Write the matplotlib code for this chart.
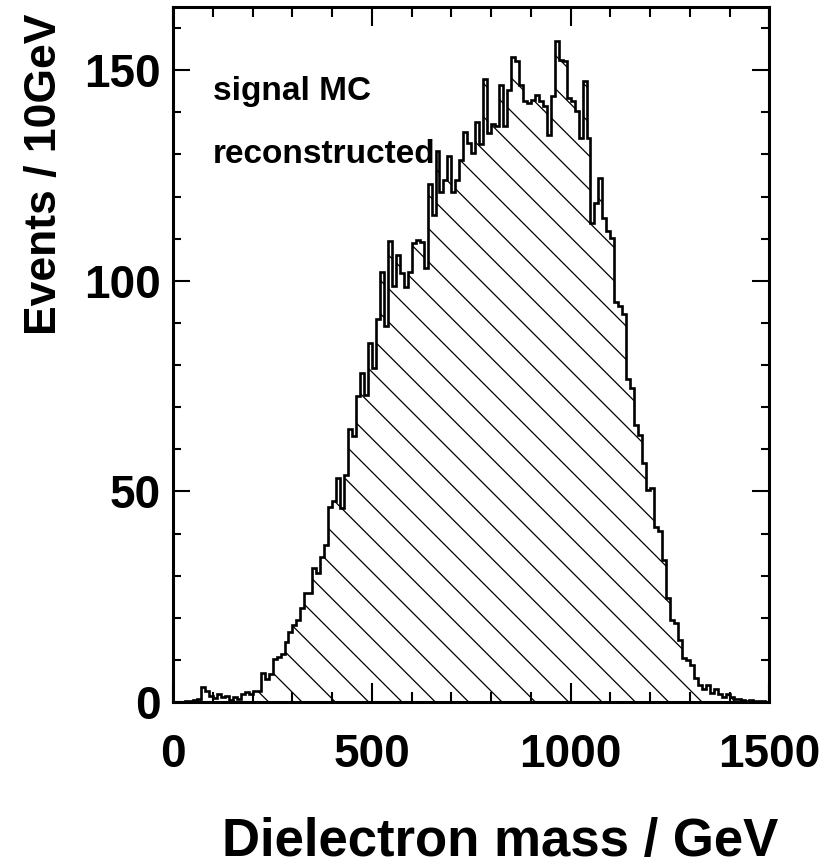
import numpy as np
import matplotlib.pyplot as plt

# bin edges: 150 bins of 10 GeV
edges = np.arange(0, 1510, 10)

# events per 10 GeV bin
events = [
    0, 0, 0, 0.3, 0.3, 0.5, 0.8, 3.5, 2.5, 1.5,
    1, 2, 1.2, 1.5, 0.5, 1.3, 0.8, 2, 2.4, 2,
    2.6, 2.6, 6.9, 5.5, 6.7, 10.3, 10.7, 11.5, 14.3, 16.7,
    18.2, 19.4, 22.3, 25.8, 25.8, 31.8, 30.7, 34.5, 37.3, 46.4,
    47.6, 53.2, 46, 54, 64.7, 63.1, 72.6, 78.1, 73, 85.2,
    79.3, 91, 102, 89.2, 109.4, 98.7, 106.2, 101.9, 98.5, 102,
    109, 109.8, 109.2, 103, 123, 115.7, 130.8, 121, 124, 129.6,
    121, 124, 128.6, 135.3, 132.6, 130.4, 137.7, 132.4, 148, 135.1,
    137.3, 136.7, 146.6, 136.7, 145.4, 153.2, 152.2, 146.4, 142.8, 142.3,
    142.9, 144.2, 142.7, 141.6, 134.5, 143.9, 157, 152.4, 152.2, 143.5,
    142.7, 140.3, 134, 147.4, 134, 113.8, 118.5, 124.3, 115, 111.8,
    110.2, 95, 94.1, 92.2, 76.7, 74.5, 65.8, 63.4, 56.7, 50.4,
    50.8, 41.6, 40.5, 33.7, 24.6, 19.5, 18.7, 14.7, 10.5, 9.9,
    8.8, 5.6, 4.0, 3.2, 4.0, 2.2, 3.2, 1.9, 1.2, 1.9,
    1.1, 0.6, 0.8, 0.4, 0.3, 0.5, 0.2, 0.3, 0.2, 0,
]

xticks = [0, 500, 1000, 1500]
yticks = [0, 50, 100, 150]
labels = ['signal MC', 'reconstructed']

plt.rcParams['font.family'] = ['Liberation Sans', 'DejaVu Sans']
plt.rcParams['font.weight'] = 'bold'
plt.rcParams['hatch.linewidth'] = 0.9

fig = plt.figure(figsize=(8.25, 8.66), dpi=100)
ax = fig.add_axes([0.210, 0.1894, 0.7225, 0.8025])

# hatched body + outline
ax.stairs(events, edges, fill=True, facecolor='none', edgecolor='black',
          hatch='\\', linewidth=0)
ax.stairs(events, edges, color='black', linewidth=1.9, baseline=None)

ax.set_xlim(0, 1500)
ax.set_ylim(0, 165)
ax.set_xticks(xticks)
ax.set_yticks(yticks)
ax.set_xticks(np.arange(0, 1501, 100), minor=True)
ax.set_yticks(np.arange(0, 161, 10), minor=True)

ax.tick_params(which='both', direction='in', top=True, right=True, width=1.5)
ax.tick_params(axis='x', which='major', length=14, pad=22, labelsize=33)
ax.tick_params(axis='x', which='minor', length=7)
ax.tick_params(axis='y', which='major', length=12, pad=9, labelsize=33)
ax.tick_params(axis='y', which='minor', length=6)
for lab in ax.get_xticklabels() + ax.get_yticklabels():
    lab.set_fontweight('bold')
for s in ax.spines.values():
    s.set_linewidth(2.2)

ax.text(100, 143, labels[0], fontsize=24, fontweight='bold', va='baseline', zorder=5)
ax.text(100, 128, labels[1], fontsize=24, fontweight='bold', va='baseline', zorder=5)

fig.text(778 / 825, 1 - 842 / 866, 'Dielectron mass / GeV', fontsize=38,
         fontweight='bold', ha='right', va='center')
fig.text(45 / 825, 1 - 14 / 866, 'Events / 10GeV', fontsize=32,
         fontweight='bold', ha='center', va='top', rotation=90)

plt.savefig('out.png', dpi=100)
